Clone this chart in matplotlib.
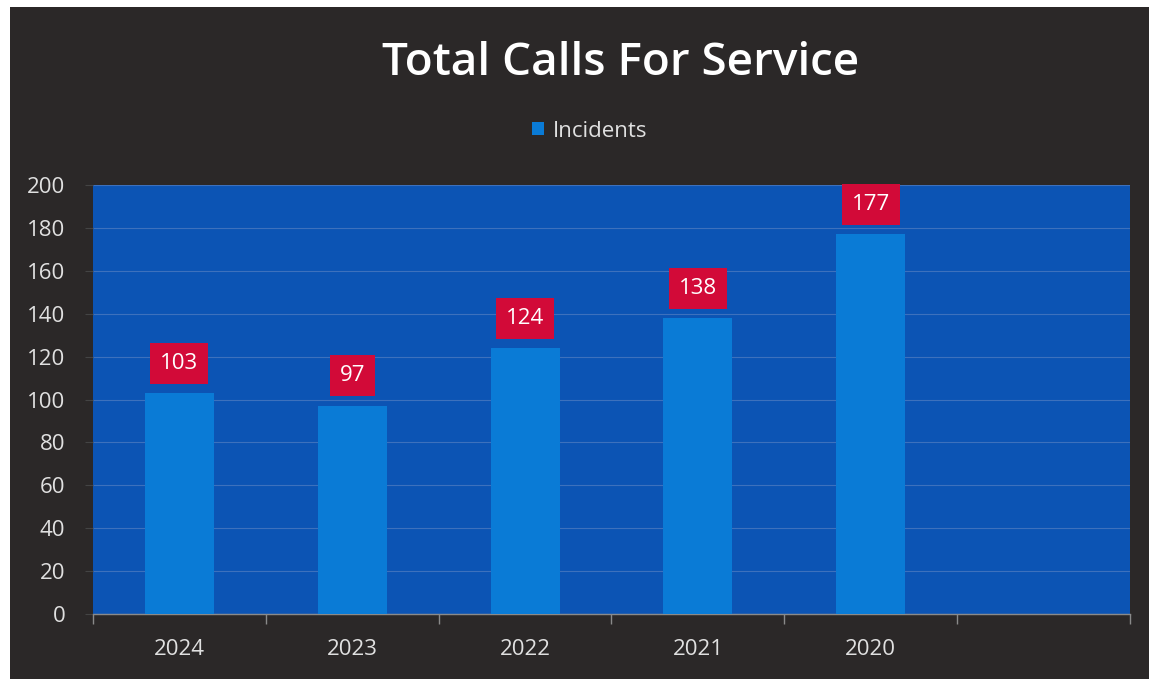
import matplotlib
matplotlib.use('Agg')
import matplotlib.pyplot as plt
from matplotlib.patches import Rectangle

# Data
years = ['2024', '2023', '2022', '2021', '2020']
incidents = [103, 97, 124, 138, 177]
n_slots = 6  # the chart keeps one empty category slot on the right
y_ticks = list(range(0, 201, 20))

# Colours
bg_dark = '#2b2828'
plot_blue = '#0c54b4'
bar_blue = '#0a7bd6'
label_red = '#d20a38'
text_col = '#e0e0e0'

plt.rcParams['font.family'] = ['Open Sans', 'DejaVu Sans']

fig = plt.figure(figsize=(11.49, 6.79), dpi=100, facecolor='white')
# dark card with a thin white margin on top and left (scan edge)
fig.patches.append(Rectangle((10 / 1149, 0), 1, 1 - 7 / 679, transform=fig.transFigure,
                             facecolor=bg_dark, edgecolor='none', zorder=-10))

ax = fig.add_axes([93 / 1149, 65 / 679, 1037 / 1149, 429 / 679])
ax.set_zorder(1)
ax.set_facecolor(plot_blue)

x = list(range(len(years)))
bars = ax.bar(x, incidents, width=0.4, color=bar_blue, label='Incidents', zorder=3)

ax.set_xlim(-0.5, n_slots - 0.5)
ax.set_ylim(0, 200)
ax.set_yticks(y_ticks)
ax.set_xticks(x)
ax.set_xticklabels(years)
ax.set_xticks([i - 0.5 for i in range(n_slots + 1)], minor=True)

ax.grid(axis='y', color='#5f86c4', linewidth=0.8, alpha=0.6, zorder=1)
ax.tick_params(axis='y', colors=text_col, labelsize=16, length=6, color='#444444', pad=14)
ax.tick_params(axis='x', which='major', colors=text_col, labelsize=16, length=0, pad=18)
ax.tick_params(axis='x', which='minor', length=7, color='#8a8a8a', width=1)

for side in ['top', 'right', 'left']:
    ax.spines[side].set_visible(False)
ax.spines['bottom'].set_color('#8a8a8a')
ax.spines['bottom'].set_linewidth(1)

# value labels in red boxes
for xi, val in zip(x, incidents):
    ax.annotate(str(val), (xi, val), xytext=(0, 14), textcoords='offset points',
                ha='center', va='bottom', color='white', fontsize=16,
                bbox=dict(boxstyle='square,pad=0.45', facecolor=label_red, edgecolor='none'),
                zorder=5, annotation_clip=False)

fig.text(0.5405, 0.906, 'Total Calls For Service', ha='center', va='center',
         color='white', fontsize=33, fontweight='semibold')

leg = fig.legend(handles=[bars], labels=['Incidents'], loc='center', bbox_to_anchor=(0.513, 0.807),
                 frameon=False, fontsize=16, handlelength=0.55, handleheight=0.55,
                 handletextpad=0.4, labelcolor=text_col)

plt.savefig('out.png', dpi=100, facecolor=fig.get_facecolor())
plt.close()
